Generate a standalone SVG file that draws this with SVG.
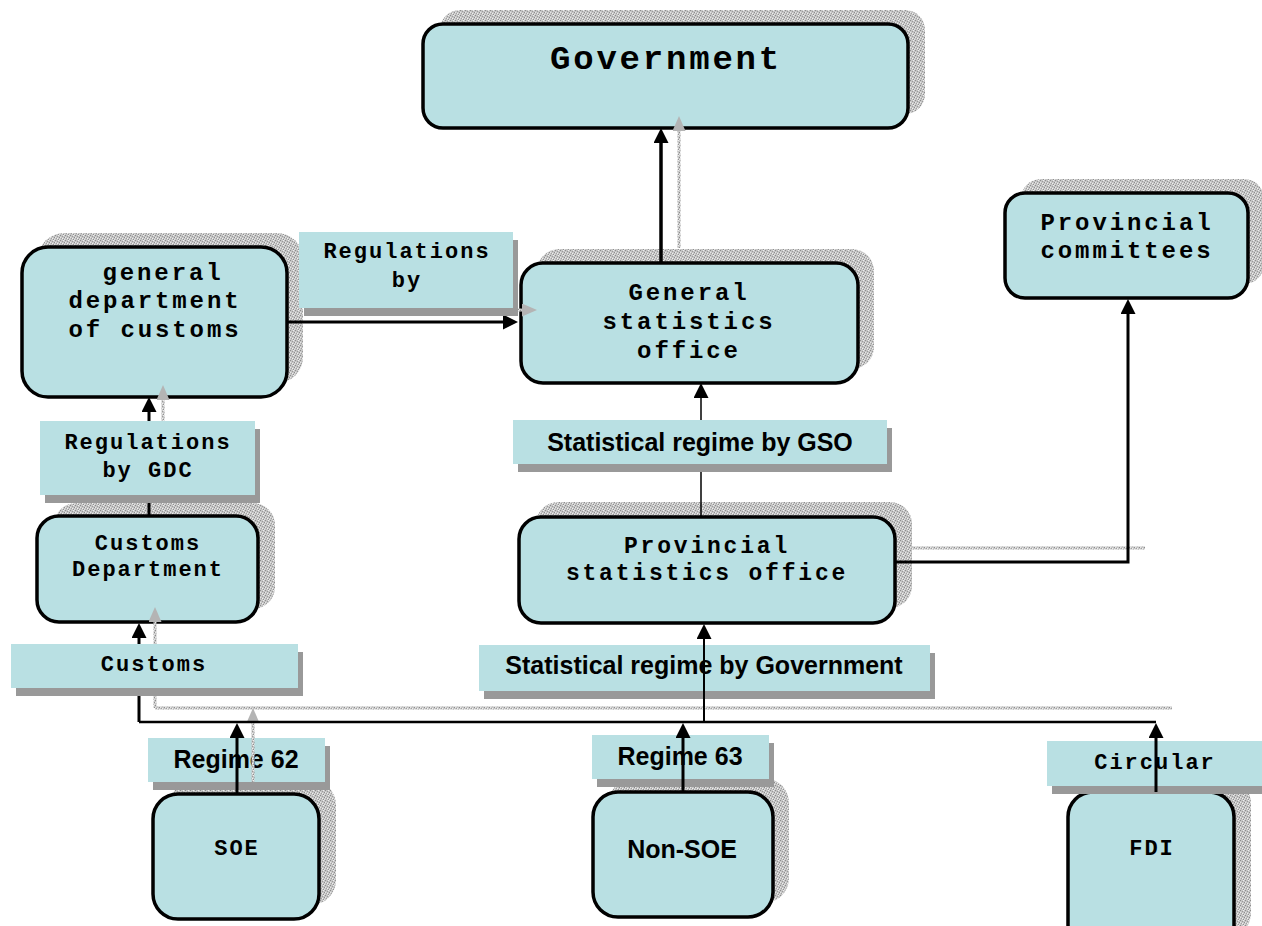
<svg xmlns="http://www.w3.org/2000/svg" width="1262" height="926" viewBox="0 0 1262 926">
<defs>
  <pattern id="stip" width="5" height="5" patternUnits="userSpaceOnUse">
    <rect width="5" height="5" fill="#c6c6c6"/>
    <rect x="0" y="0" width="1" height="1" fill="#8c8c8c"/>
    <rect x="2" y="1" width="1" height="1" fill="#9a9a9a"/>
    <rect x="4" y="2" width="1" height="1" fill="#8c8c8c"/>
    <rect x="1" y="3" width="1" height="1" fill="#a0a0a0"/>
    <rect x="3" y="4" width="1" height="1" fill="#929292"/>
    <rect x="3" y="0" width="1" height="1" fill="#eeeeee"/>
    <rect x="0" y="2" width="1" height="1" fill="#e8e8e8"/>
    <rect x="2" y="3" width="1" height="1" fill="#f0f0f0"/>
    <rect x="4" y="4" width="1" height="1" fill="#e4e4e4"/>
  </pattern>
  <marker id="ah" viewBox="0 0 15 15" refX="7" refY="7.5" markerWidth="15" markerHeight="15" markerUnits="userSpaceOnUse" orient="auto">
    <path d="M0,0 L15,7.5 L0,15 Z" fill="#000"/>
  </marker>
  <marker id="ahg" viewBox="0 0 15 13" refX="7" refY="6.5" markerWidth="15" markerHeight="13" markerUnits="userSpaceOnUse" orient="auto">
    <path d="M0,0 L15,6.5 L0,13 Z" fill="#b4b4b4"/>
  </marker>
</defs>
<style>
  .box{fill:#b9e0e3;stroke:#000;stroke-width:3.5}
  .sh{fill:url(#stip)}
  .lab{fill:#b9e0e3}
  .lsh{fill:#999999}
  .m{font-family:"Liberation Mono","Courier New",monospace;font-weight:bold;text-anchor:middle;fill:#000}
  .m24{font-size:24px;letter-spacing:2.9px}
  .m22{font-size:22px;letter-spacing:2px}
  .s{font-family:"Liberation Sans",Arial,sans-serif;font-weight:bold;text-anchor:middle;fill:#000;font-size:25px}
  .c{fill:none;stroke:#000;marker-end:url(#ah)}
  .cn{fill:none;stroke:#000}
  .cg{fill:none;stroke:url(#stip);stroke-width:3}
  .cga{fill:none;stroke:url(#stip);stroke-width:3;marker-end:url(#ahg)}
</style>

<g id="node-government">
  <rect class="sh" x="440" y="10" width="485" height="104" rx="20"/>
  <rect class="box" x="423" y="24" width="485" height="104" rx="20"/>
  <text class="m" x="666" y="69" font-size="34" letter-spacing="2.8">Government</text>
</g>

<g id="node-gdc">
  <rect class="sh" x="38" y="233" width="265" height="150" rx="26"/>
  <rect class="box" x="22" y="247" width="265" height="150" rx="26"/>
  <text class="m m24"><tspan x="163" y="280">general</tspan><tspan x="155" y="308">department</tspan><tspan x="155" y="337">of customs</tspan></text>
</g>

<g id="node-gso">
  <rect class="sh" x="537" y="249" width="337" height="120" rx="22"/>
  <rect class="box" x="521" y="263" width="337" height="120" rx="22"/>
  <text class="m m24"><tspan x="689" y="300">General</tspan><tspan x="689" y="329">statistics</tspan><tspan x="689" y="358">office</tspan></text>
</g>

<g id="node-committees">
  <rect class="sh" x="1021" y="179" width="243" height="105" rx="20"/>
  <rect class="box" x="1005" y="193" width="243" height="105" rx="20"/>
  <text class="m m24"><tspan x="1127" y="230">Provincial</tspan><tspan x="1127" y="258">committees</tspan></text>
</g>

<g id="node-customs-dept">
  <rect class="sh" x="54" y="503" width="221" height="106" rx="22"/>
  <rect class="box" x="37" y="516" width="221" height="106" rx="22"/>
  <text class="m m22"><tspan x="148" y="550">Customs</tspan><tspan x="148" y="576">Department</tspan></text>
</g>

<g id="node-pso">
  <rect class="sh" x="536" y="502" width="376" height="106" rx="22"/>
  <rect class="box" x="519" y="517" width="376" height="106" rx="22"/>
  <text class="m" font-size="23" letter-spacing="2.8"><tspan x="707" y="553">Provincial</tspan><tspan x="707" y="580">statistics office</tspan></text>
</g>

<g id="node-soe">
  <rect class="sh" x="170" y="780" width="166" height="125" rx="25"/>
  <rect class="box" x="153" y="794" width="166" height="125" rx="25"/>
  <text class="m m22" x="237" y="855">SOE</text>
</g>

<g id="node-nonsoe">
  <rect class="sh" x="609" y="778" width="180" height="125" rx="25"/>
  <rect class="box" x="593" y="792" width="180" height="125" rx="25"/>
  <text class="s" x="682" y="858">Non-SOE</text>
</g>

<g id="node-fdi">
  <rect class="sh" x="1085" y="778" width="166" height="160" rx="25"/>
  <rect class="box" x="1068" y="792" width="166" height="160" rx="25"/>
  <text class="m m22" x="1152" y="855">FDI</text>
</g>

<g id="label-stat-gov">
  <rect class="lsh" x="484" y="653" width="451" height="46"/>
  <rect class="lab" x="479" y="645" width="451" height="46"/>
  <text class="s" x="704" y="674">Statistical regime by Government</text>
</g>
<g id="label-regime62">
  <rect class="lsh" x="153" y="746" width="177" height="44"/>
  <rect class="lab" x="148" y="738" width="177" height="44"/>
  <text class="s" x="236" y="768">Regime 62</text>
</g>
<g id="label-regime63">
  <rect class="lsh" x="597" y="743" width="177" height="44"/>
  <rect class="lab" x="592" y="735" width="177" height="44"/>
  <text class="s" x="680" y="765">Regime 63</text>
</g>
<g id="label-circular">
  <rect class="lsh" x="1052" y="749" width="220" height="45"/>
  <rect class="lab" x="1047" y="741" width="220" height="45"/>
  <text class="m m22" x="1155" y="769">Circular</text>
</g>

<g id="connectors">
  <path class="cga" d="M679,248 V124"/>
  <path class="cga" d="M305,310 H529"/>
  <path class="cga" d="M163,502 V393"/>
  <path class="cga" d="M155,708 V615"/>
  <path class="cg" d="M155,708 H1172"/>
  <path class="cga" d="M253,782 V716"/>
  <path class="cg" d="M912,548 H1145"/>

  <path class="c" stroke-width="3.5" d="M661,263 V136"/>
  <path class="c" stroke-width="3" d="M287,322 H510"/>
  <path class="c" stroke-width="3" d="M149,516 V405"/>
  <path class="c" stroke-width="3" d="M139,722 V631"/>
  <path class="cn" stroke-width="2.5" d="M139,722 H1156"/>
  <path class="c" stroke-width="3" d="M237,794 V731"/>
  <path class="c" stroke-width="3" d="M683,792 V731"/>
  <path class="c" stroke-width="3" d="M1156,792 V731"/>
  <path class="c" stroke-width="2" d="M704,722 V632"/>
  <path class="c" stroke-width="1.5" d="M701,517 V391"/>
  <path class="c" stroke-width="3" d="M895,562 H1128 V307"/>
</g>

<g id="label-regulations-by">
  <rect class="lsh" x="304" y="240" width="214" height="76"/>
  <rect class="lab" x="299" y="232" width="214" height="76"/>
  <text class="m m22"><tspan x="407" y="258">Regulations</tspan><tspan x="407" y="287">by</tspan></text>
</g>
<g id="label-regulations-gdc">
  <rect class="lsh" x="45" y="429" width="215" height="74"/>
  <rect class="lab" x="40" y="421" width="215" height="74"/>
  <text class="m m22"><tspan x="148" y="449">Regulations</tspan><tspan x="148" y="477">by GDC</tspan></text>
</g>
<g id="label-customs">
  <rect class="lsh" x="16" y="652" width="287" height="44"/>
  <rect class="lab" x="11" y="644" width="287" height="44"/>
  <text class="m m22" x="154" y="671">Customs</text>
</g>
<g id="label-stat-gso">
  <rect class="lsh" x="518" y="428" width="374" height="44"/>
  <rect class="lab" x="513" y="420" width="374" height="44"/>
  <text class="s" x="700" y="451">Statistical regime by GSO</text>
</g>
</svg>
